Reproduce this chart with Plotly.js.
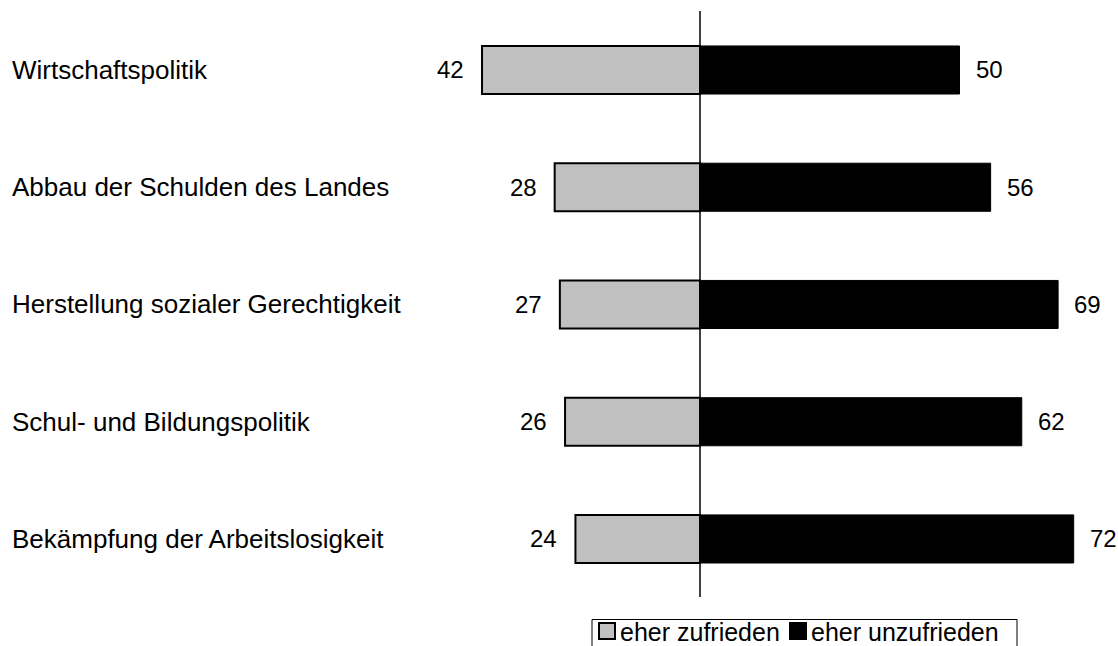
<!DOCTYPE html>
<html>
<head>
<meta charset="utf-8">
<script src="https://cdn.plot.ly/plotly-3.0.1.min.js"></script>
<style>html,body{margin:0;padding:0;background:#fff;}#chart{width:1118px;height:646px;}</style>
</head>
<body>
<div id="chart"></div>
<script>
const categories = ['Wirtschaftspolitik', 'Abbau der Schulden des Landes', 'Herstellung sozialer Gerechtigkeit', 'Schul- und Bildungspolitik', 'Bekämpfung der Arbeitslosigkeit'];
const zufrieden = [42, 28, 27, 26, 24];
const unzufrieden = [50, 56, 69, 62, 72];
const seriesNames = ['eher zufrieden', 'eher unzufrieden'];
const seriesColors = ['#c0c0c0', '#000000'];

const FONT = 'Liberation Sans, Arial, sans-serif';
const W = 1118, H = 646;
const px = v => v / W;           // paper x from pixel
const py = v => 1 - v / H;       // paper y from pixel

const traces = [
  {
    type: 'bar', orientation: 'h', name: seriesNames[0],
    y: categories, x: zufrieden.map(v => -v), width: 0.41,
    marker: {color: seriesColors[0], line: {color: '#000', width: 2}},
    hoverinfo: 'skip'
  },
  {
    type: 'bar', orientation: 'h', name: seriesNames[1],
    y: categories, x: unzufrieden, width: 0.41,
    marker: {color: seriesColors[1], line: {color: '#000', width: 1}},
    hoverinfo: 'skip'
  }
];

const annotations = [];
categories.forEach((c, i) => {
  annotations.push({xref: 'paper', yref: 'y', x: 0, y: c, xanchor: 'left', yanchor: 'middle',
    xshift: 10, text: c, showarrow: false, font: {family: FONT, size: 26, color: '#000'}});
  annotations.push({xref: 'x', yref: 'y', x: -zufrieden[i], y: c, xanchor: 'right', yanchor: 'middle',
    xshift: -16, text: String(zufrieden[i]), showarrow: false, font: {family: FONT, size: 24, color: '#000'}});
  annotations.push({xref: 'x', yref: 'y', x: unzufrieden[i], y: c, xanchor: 'left', yanchor: 'middle',
    xshift: 14, text: String(unzufrieden[i]), showarrow: false, font: {family: FONT, size: 24, color: '#000'}});
});

// custom legend (box partly cut off at the bottom, as in the reference)
const legendItems = [{x: 599, tx: 618}, {x: 790, tx: 809}];
const shapes = [
  {type: 'line', xref: 'x', yref: 'paper', x0: 0, x1: 0, y0: py(597), y1: py(11),
    line: {color: '#000', width: 1.5}, layer: 'above'},
  {type: 'rect', xref: 'paper', yref: 'paper', x0: px(592), x1: px(1017), y0: py(680), y1: py(619.5),
    line: {color: '#000', width: 1}, fillcolor: '#fff', layer: 'above'}
];
legendItems.forEach((it, k) => {
  shapes.push({type: 'rect', xref: 'paper', yref: 'paper', x0: px(it.x), x1: px(it.x + 16), y0: py(639), y1: py(623),
    line: {color: '#000', width: 2}, fillcolor: seriesColors[k], layer: 'above'});
  annotations.push({xref: 'paper', yref: 'paper', x: px(it.tx), y: py(632), xanchor: 'left', yanchor: 'middle',
    text: seriesNames[k], showarrow: false, font: {family: FONT, size: 25, color: '#000'}});
});

const layout = {
  width: W, height: H,
  margin: {l: 0, r: 0, t: 0, b: 0},
  paper_bgcolor: '#fff', plot_bgcolor: '#fff',
  barmode: 'relative',
  showlegend: false,
  xaxis: {range: [-700/5.19, 418/5.19], visible: false, fixedrange: true},
  yaxis: {type: 'category', categoryarray: categories, range: [4.913, -0.597], visible: false, fixedrange: true},
  shapes: shapes,
  annotations: annotations
};

Plotly.newPlot('chart', traces, layout, {displayModeBar: false, staticPlot: true});
</script>
</body>
</html>
